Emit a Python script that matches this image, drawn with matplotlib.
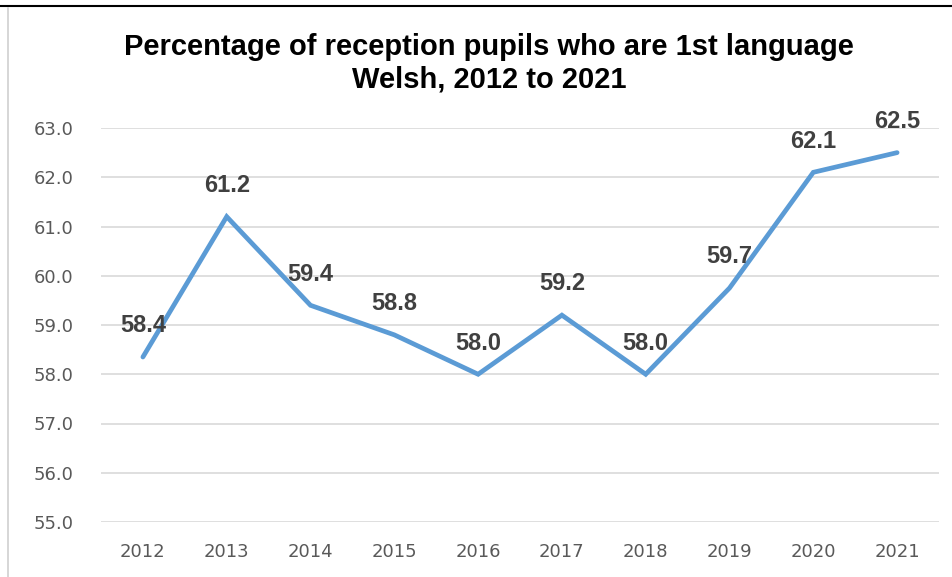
import matplotlib.pyplot as plt
from matplotlib.lines import Line2D

years = ["2012", "2013", "2014", "2015", "2016", "2017", "2018", "2019", "2020", "2021"]
values = [58.35, 61.2, 59.4, 58.8, 58.0, 59.2, 58.0, 59.75, 62.1, 62.5]
labels = ["58.4", "61.2", "59.4", "58.8", "58.0", "59.2", "58.0", "59.7", "62.1", "62.5"]
yticks = [55.0, 56.0, 57.0, 58.0, 59.0, 60.0, 61.0, 62.0, 63.0]

W, H = 953, 577
fig = plt.figure(figsize=(W / 100, H / 100), dpi=100)

# plot area in pixels: x 101..939, y 128..522
ax = fig.add_axes([101 / W, (H - 522) / H, (939 - 101) / W, (522 - 128) / H])

x = list(range(len(years)))
ax.plot(x, values, color="#5B9BD5", linewidth=3.4, solid_capstyle="round",
        solid_joinstyle="miter", zorder=3)

for xi, v, lab in zip(x, values, labels):
    ax.annotate(lab, (xi, v), xytext=(0, 22.5), textcoords="offset points",
                ha="center", va="center", fontsize=17, fontweight="bold",
                color="#404040", family="Liberation Sans", zorder=4)

ax.set_xlim(-0.5, len(years) - 0.5)
ax.set_ylim(55, 63)
ax.set_yticks(yticks)
ax.set_yticklabels([f"{t:.1f}" for t in yticks])
ax.set_xticks(x)
ax.set_xticklabels(years)
ax.grid(axis="y", color="#D9D9D9", linewidth=1.2)
ax.set_axisbelow(True)
for s in ax.spines.values():
    s.set_visible(False)
ax.tick_params(length=0, labelsize=13, labelcolor="#595959")
ax.tick_params(axis="y", pad=20)
ax.tick_params(axis="x", pad=15)
for t in ax.get_xticklabels() + ax.get_yticklabels():
    t.set_family("DejaVu Sans")

fig.text(489 / W, 1 - 63 / H, "Percentage of reception pupils who are 1st language\nWelsh, 2012 to 2021",
         ha="center", va="center", fontsize=21, fontweight="bold",
         family="Liberation Sans", linespacing=1.2)

# frame lines of the original screenshot
fig.add_artist(Line2D([0, 1], [1 - 6 / H, 1 - 6 / H], color="black", linewidth=1.5))
fig.add_artist(Line2D([8 / W, 8 / W], [0, 1 - 8 / H], color="#D0D0D0", linewidth=1.2))

fig.savefig("out.png", dpi=100)
